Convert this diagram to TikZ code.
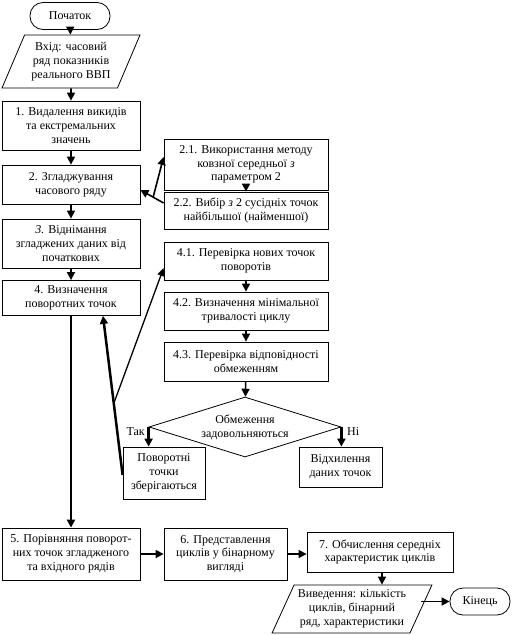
\documentclass[tikz,border=0pt]{standalone}
\usepackage{fontspec}
\setmainfont{Liberation Serif}
\usetikzlibrary{shapes.geometric,arrows.meta,calc}
\begin{document}
\begin{tikzpicture}[x=1pt,y=-1pt,
  every node/.style={font=\fontsize{12}{13.8}\selectfont, align=center, inner sep=1pt},
  box/.style={draw, line width=0.8pt, rectangle, anchor=center},
  term/.style={draw, line width=0.8pt, rounded corners=13pt, anchor=center},
  para/.style={draw, line width=0.8pt, trapezium, trapezium stretches=true, anchor=center},
  dia/.style={draw, line width=0.8pt, diamond, aspect=3.2, anchor=center},
  arr/.style={line width=1.6pt, -{Triangle[length=8pt,width=8pt]}},
  arrthick/.style={line width=2.5pt, -{Triangle[length=8pt,width=8pt]}},
  arrthin/.style={line width=1.3pt, -{Triangle[length=8pt,width=7pt]}},
  lbl/.style={font=\fontsize{12}{13.8}\selectfont}
]
\useasboundingbox (0,0) rectangle (516,635);

\node[term, minimum width=80, minimum height=27] (start) at (70,16) {Початок};
\node[para, trapezium left angle=64, trapezium right angle=116, minimum width=138, minimum height=53] (inp) at (71,61.5) {Вхід: часовий\\ряд показників\\реального ВВП};
\node[box, minimum width=138, minimum height=49] (b1) at (71,125.5) {1. Видалення викидів\\та екстремальних\\значень};
\node[box, minimum width=138, minimum height=39] (b2) at (71,184.5) {2. Згладжування\\часового ряду};
\node[box, minimum width=138, minimum height=49] (b3) at (71,243.5) {\textit{3.} Віднімання\\згладжених даних від\\початкових};
\node[box, minimum width=138, minimum height=35] (b4) at (71,298) {4. Визначення\\поворотних точок};

\node[box, minimum width=164, minimum height=51] (b21) at (246,164.5) {2.1. Використання методу\\ковзної середньої \textit{з}\\параметром 2};
\node[box, minimum width=164, minimum height=37] (b22) at (246,210.5) {2.2. Вибір \textit{з} 2 сусідніх точок\\найбільшої (найменшої)};

\node[box, minimum width=164, minimum height=38] (b41) at (246,261) {4.1. Перевірка нових точок\\поворотів};
\node[box, minimum width=164, minimum height=38] (b42) at (246,311) {4.2. Визначення мінімальної\\тривалості циклу};
\node[box, minimum width=164, minimum height=39] (b43) at (246,361.5) {4.3. Перевірка відповідності\\обмеженням};
\node[dia, minimum width=192, minimum height=60, inner sep=0pt] (d) at (245,427) {Обмеження\\задовольняються};
\node[box, minimum width=82, minimum height=52] (keep) at (164,473) {Поворотні\\точки\\зберігаються};
\node[box, minimum width=83, minimum height=40] (rej) at (340.5,467) {Відхилення\\даних точок};
\node[lbl, anchor=east] (tak) at (146,432) {Так};
\node[lbl, anchor=west] (ni) at (346,432) {Ні};

\node[box, minimum width=138, minimum height=52] (b5) at (71,554) {5. Порівняння поворот-\\них точок згладженого\\та вхідного рядів};
\node[box, minimum width=123, minimum height=52] (b6) at (225.5,554) {6. Представлення\\циклів у бінарному\\вигляді};
\node[box, minimum width=146, minimum height=40] (b7) at (380,552) {7. Обчислення середніх\\характеристик циклів};
\node[para, trapezium left angle=62.5, trapezium right angle=117.5, minimum width=160, minimum height=48] (out) at (352,609) {Виведення: кількість\\циклів, бінарний\\ряд, характеристики};
\node[term, minimum width=60, minimum height=27] (end) at (480,601.5) {Кінець};

% main column
\draw[arr] (start) -- (inp);
\draw[arr] (inp.south |- inp.bottom side) -- (b1.north);
\draw[arr] (b1) -- (b2);
\draw[arr] (b2) -- (b3);
\draw[arr] (b3) -- (b4);
\draw[arrthick] (b4.south) -- (b5.north);
\draw[arr] (b5) -- (b6);
\draw[arr] (b6.east) -- (b6.east -| b7.west);
\draw[arr] (b7.south -| 382,0) -- (out.north -| 382,0);
\draw[arr] (out.east |- end.west) -- (end.west);

% step 2 branch
\draw[arr] ([yshift=7.5pt]b22.west) -- ([yshift=-5.5pt]b2.east);
\coordinate (j2) at ($([yshift=7.5pt]b22.west)!0.45!([yshift=-5.5pt]b2.east)$);
\draw[arr] (j2) -- ([yshift=7.5pt]b21.west);
\draw[arr] (b21) -- (b22);

% step 4 branch
\draw[arr] (b41) -- (b42);
\draw[arr] (b42) -- (b43);
\draw[arr] (b43) -- (d);
\draw[arrthick] ([yshift=-2pt]keep.west) -- ([xshift=32pt]b4.south);
\coordinate (j4) at ($([yshift=-2pt]keep.west)!0.45!([xshift=32pt]b4.south)$);
\draw[arrthin] (j4) -- ([yshift=-7pt]b41.west);
\draw[arrthick] (d.west) -- (d.west |- keep.north);
\draw[arrthick] (d.east) -- (d.east |- rej.north);
\end{tikzpicture}
\end{document}
